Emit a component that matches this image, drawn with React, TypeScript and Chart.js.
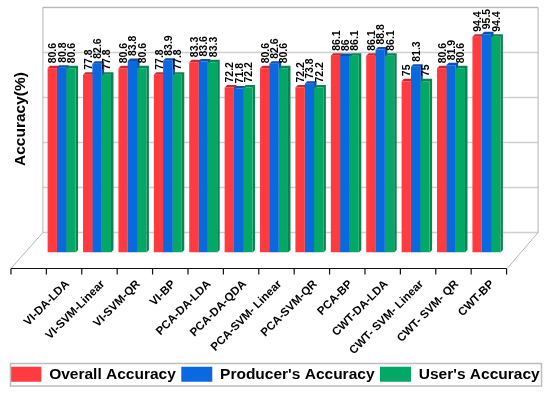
import React, { useEffect, useRef } from "react";
import { Chart, registerables } from "chart.js";

Chart.register(...registerables);

const categories = ["VI-DA-LDA", "VI-SVM-Linear", "VI-SVM-QR", "VI-BP", "PCA-DA-LDA", "PCA-DA-QDA", "PCA-SVM- Linear", "PCA-SVM-QR", "PCA-BP", "CWT-DA-LDA", "CWT- SVM- Linear", "CWT- SVM- QR", "CWT-BP"];
const overall = [80.6, 77.8, 80.6, 77.8, 83.3, 72.2, 80.6, 72.2, 86.1, 86.1, 75, 80.6, 94.4];
const producer = [80.8, 82.6, 83.8, 83.9, 83.6, 71.8, 82.6, 73.8, 86, 88.8, 81.3, 81.9, 95.5];
const users = [80.6, 77.8, 80.6, 77.8, 83.3, 72.2, 80.6, 72.2, 86.1, 86.1, 75, 80.6, 94.4];
const gridValues = [0, 20, 40, 60, 80, 100];
const FONT = "'Liberation Sans', Arial, sans-serif";
const DEPTH_X = 33;
const DEPTH_Y = 20;
const FRONT_Y = 16;
const BAR_D = 2.5;
const darker = ["#c92a2e", "#0a52ad", "#0a8552"];

const plugin3d = {
  id: "plot3d",
  beforeDatasetsDraw(chart: any) {
    const { ctx, scales } = chart;
    const { x, y } = scales;
    const base = y.getPixelForValue(0);
    const wallL = x.left - 1;
    const wallR = x.right + 34;
    const backY = (v: number) => base - DEPTH_Y - (base - y.getPixelForValue(v)) * 0.985;
    ctx.save();
    ctx.strokeStyle = "#cfcfcf";
    ctx.lineWidth = 1.5;
    gridValues.forEach((v) => {
      ctx.beginPath();
      ctx.moveTo(wallL, backY(v));
      ctx.lineTo(wallR, backY(v));
      ctx.stroke();
    });
    ctx.strokeStyle = "#b5b5b5";
    ctx.lineWidth = 1;
    ctx.beginPath();
    ctx.moveTo(wallL - DEPTH_X + 1, base + FRONT_Y);
    ctx.lineTo(wallL, backY(0));
    ctx.lineTo(wallL, backY(100));
    ctx.lineTo(wallR, backY(100));
    ctx.lineTo(wallR, backY(0));
    ctx.lineTo(wallR - 31, base + FRONT_Y);
    ctx.stroke();
    const step = (x.right - x.left) / categories.length;
    const start = x.left - step * 0.93;
    ctx.strokeStyle = "#111";
    ctx.lineWidth = 1.2;
    ctx.beginPath();
    ctx.moveTo(start, base + FRONT_Y);
    ctx.lineTo(start + step * 14, base + FRONT_Y);
    for (let i = 0; i <= 14; i++) {
      ctx.moveTo(start + step * i, base + FRONT_Y);
      ctx.lineTo(start + step * i, base + FRONT_Y + 6);
    }
    ctx.stroke();
    ctx.fillStyle = "#000";
    ctx.font = `bold 15.5px ${FONT}`;
    ctx.textAlign = "center";
    ctx.textBaseline = "middle";
    ctx.save();
    ctx.translate(21, 119);
    ctx.rotate(-Math.PI / 2);
    ctx.fillText("Accuracy(%)", 0, 0);
    ctx.restore();
    chart.data.datasets.forEach((_: any, index: number) => {
      ctx.fillStyle = darker[index];
      chart.getDatasetMeta(index).data.forEach((bar: any) => {
        const r = bar.x + bar.width / 2;
        const l = bar.x - bar.width / 2;
        ctx.beginPath();
        ctx.moveTo(l, bar.y);
        ctx.lineTo(l + BAR_D, bar.y - BAR_D);
        ctx.lineTo(r + BAR_D, bar.y - BAR_D);
        ctx.lineTo(r + BAR_D, bar.base - BAR_D);
        ctx.lineTo(r, bar.base);
        ctx.lineTo(r, bar.y);
        ctx.closePath();
        ctx.fill();
      });
    });
    ctx.restore();
  },
  afterDatasetsDraw(chart: any) {
    const { ctx } = chart;
    ctx.save();
    ctx.fillStyle = "#000";
    ctx.font = `bold 10.5px ${FONT}`;
    ctx.textAlign = "left";
    ctx.textBaseline = "middle";
    chart.data.datasets.forEach((ds: any, i: number) => {
      chart.getDatasetMeta(i).data.forEach((bar: any, j: number) => {
        ctx.save();
        ctx.translate(bar.x + 1.2, bar.y - 5);
        ctx.rotate(-Math.PI / 2);
        ctx.fillText(String(ds.data[j]), 0, 0);
        ctx.restore();
      });
    });
    ctx.restore();
  },
  afterDraw(chart: any) {
    const { ctx, legend } = chart;
    ctx.save();
    ctx.strokeStyle = "#bdbdbd";
    ctx.lineWidth = 1.5;
    ctx.strokeRect(10.5, legend.top + 2.5, 531, 22.5);
    ctx.restore();
  },
};

export default function App() {
  const ref = useRef<HTMLCanvasElement>(null);
  useEffect(() => {
    document.body.style.margin = "0";
    const chart = new Chart(ref.current as HTMLCanvasElement, {
      type: "bar",
      data: {
        labels: categories,
        datasets: [
          { label: "Overall Accuracy", data: overall, backgroundColor: "#ff3b40", categoryPercentage: 0.79, barPercentage: 1 },
          { label: "Producer's Accuracy", data: producer, backgroundColor: "#0a69df", categoryPercentage: 0.79, barPercentage: 1 },
          { label: "User's Accuracy", data: users, backgroundColor: "#04a866", categoryPercentage: 0.79, barPercentage: 1 },
        ],
      },
      options: {
        responsive: false,
        animation: false,
        layout: { padding: { top: 24, left: 0, right: 0, bottom: 1 } },
        plugins: {
          tooltip: { enabled: false },
          legend: {
            position: "bottom",
            labels: {
              boxWidth: 31,
              boxHeight: 15,
              padding: 5.5,
              color: "#000",
              font: { family: FONT, size: 15.5, weight: "bold" },
            },
          },
        },
        scales: {
          x: {
            offset: true,
            grid: { display: false },
            border: { display: false },
            ticks: {
              autoSkip: false,
              minRotation: 45,
              maxRotation: 45,
              padding: 17,
              labelOffset: 6,
              color: "#000",
              font: { family: FONT, size: 11.5, weight: "bold" },
            },
            afterFit(scale: any) {
              scale.height = 108.5;
            },
          },
          y: {
            min: 0,
            max: 100,
            grid: { display: false },
            border: { display: false },
            ticks: { display: false },
            afterFit(scale: any) {
              scale.width = 43.9;
            },
          },
          yRight: {
            position: "right",
            min: 0,
            max: 100,
            grid: { display: false },
            border: { display: false },
            ticks: { display: false },
            afterFit(scale: any) {
              scale.width = 45.9;
            },
          },
        },
      },
      plugins: [plugin3d],
    } as any);
    return () => chart.destroy();
  }, []);
  return <canvas ref={ref} width={550} height={393} style={{ display: "block" }} />;
}
